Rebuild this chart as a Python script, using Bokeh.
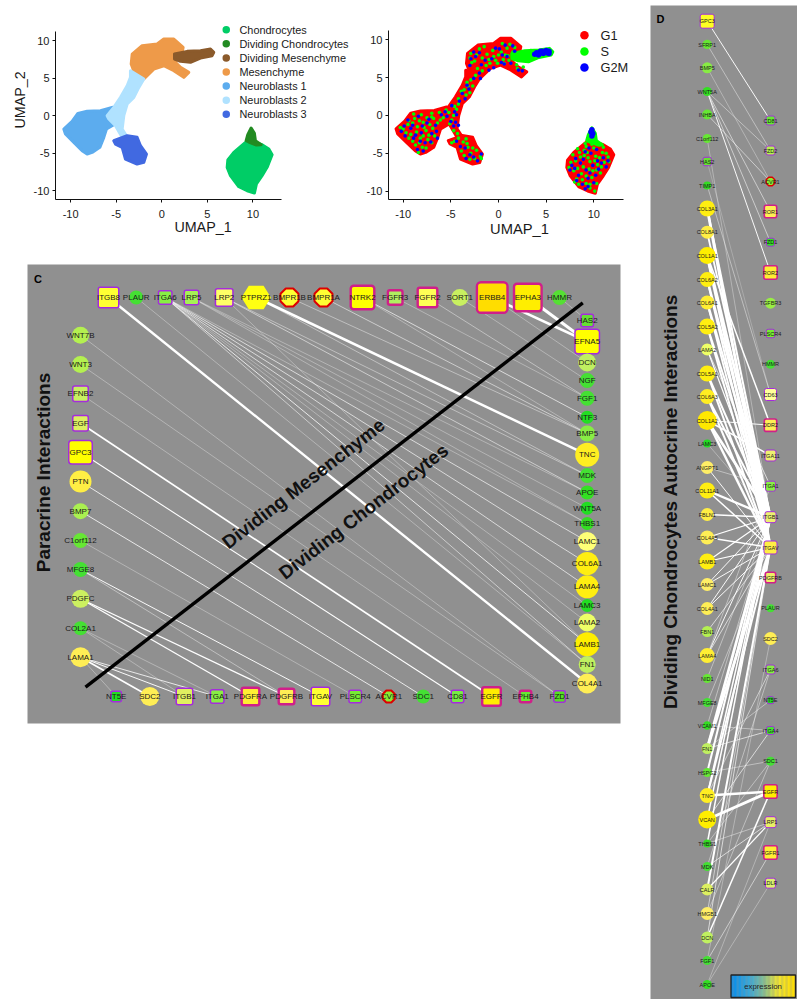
import math
from bokeh.plotting import figure
from bokeh.layouts import row, column
from bokeh.models import Range1d, FixedTicker, Label
from bokeh.core.properties import value
from bokeh.embed import file_html
from bokeh.resources import INLINE

FONT = "Liberation Sans"

# ---------- UMAP clusters (outlines, data units) ----------
cluster_names = ["Chondrocytes", "Dividing Chondrocytes", "Dividing Mesenchyme", "Mesenchyme",
                 "Neuroblasts 1", "Neuroblasts 2", "Neuroblasts 3"]
cluster_colors = ["#00cd66", "#228b22", "#8b5a2b", "#ee9a49", "#5cacee", "#b0e2ff", "#4169e1"]
phase_names = ["G1", "S", "G2M"]
phase_colors = ["#ff0000", "#00ff00", "#0000ff"]

chondro = [(9.18,-3.55),(7.9,-4.88),(7.24,-5.9),(7.17,-6.87),(7.53,-7.98),(8.08,-8.87),(8.45,-9.45),(9.36,-9.98),
           (10.16,-10.29),(10.38,-9.09),(11.0,-7.98),(11.55,-6.87),(12.1,-5.19),(11.74,-4.43),(11.0,-3.86),(10.27,-3.55)]
div_chondro = [(9.8,-1.64),(10.16,-2.35),(10.27,-3.33),(10.9,-3.86),(10.38,-3.9),(9.54,-3.5),(9.25,-3.33),(9.43,-2.53)]
mesench = [(-3.25,8.2),(-2.16,9.31),(-0.51,9.53),(0.22,10.2),(1.32,10.2),(2.34,9.09),(2.23,8.43),(1.5,8.2),(1.5,7.1),
           (2.05,6.43),(2.96,5.76),(2.41,5.1),(1.32,5.99),(0.22,6.65),(-0.88,6.2),(-1.97,4.88),(-2.89,5.32),(-3.36,6.87)]
div_mes = [(1.39,8.2),(2.78,8.56),(4.24,8.65),(5.34,8.87),(5.7,8.43),(5.52,7.98),(4.24,7.67),(3.14,7.1),(2.05,7.23),(1.39,7.54)]
neuro2 = [(-3.44,5.99),(-1.97,4.88),(-2.52,3.77),(-3.07,2.44),(-3.8,1.55),(-4.17,0),(-4.35,-1.77),(-3.88,-2.66),(-4.35,-2.88),
          (-5.08,-1.33),(-5.81,-0.44),(-6.0,0),(-5.27,1.11),(-4.53,2.44),(-3.8,3.99),(-3.44,5.1)]
neuro1 = [(-10.75,-1.77),(-9.84,-0.75),(-9.21,0.31),(-8.19,0.58),(-6.73,0.67),(-5.45,1.11),(-5.27,-1.2),(-6.07,-1.77),(-6.36,-2.88),
          (-6.8,-4.21),(-7.64,-4.88),(-8.19,-5.1),(-8.74,-4.66),(-9.65,-3.55),(-10.57,-2.44)]
neuro3 = [(-5.27,-3.33),(-3.8,-2.66),(-2.71,-2.88),(-2.34,-3.99),(-1.68,-5.1),(-1.97,-6.21),(-2.71,-6.43),(-3.99,-5.76),
          (-4.35,-4.21),(-5.08,-3.77)]

# cells picked out of the cycle-phase panel
s_cells = [(-10.0,-1.8),(-9.5,-1.2),(-9.2,-2.5),(-8.8,-0.4),(-8.5,-1.5),(-8.2,-3.0),(-8.6,-2.2),(-7.9,-0.9),(-7.6,-2.0),
           (-7.4,-3.2),(-7.2,-1.2),(-6.8,-0.4),(-6.7,-2.7),(-8.0,-4.2),(-8.4,-4.9),(-9.0,-3.4),(-7.0,-0.2),(-6.2,0.4),(-5.8,-0.3),
           (-5.2,0.4),(-4.6,1.2),(-4.9,-0.6),(-4.2,2.2),(-3.6,3.4),(-3.2,3.9),(-2.9,4.7),(-4.7,-2.0),(-4.3,-2.4),(-3.4,2.7),
           (-4.6,-3.4),(-3.7,-3.5),(-3.2,-4.2),(-3.6,-5.3),(-2.9,-5.0),(-2.5,-5.7),(-1.9,-5.4),(-1.8,-5.7),(-3.4,-3.1),
           (-2.9,8.2),(-2.5,7.2),(-2.0,8.8),(-1.7,7.6),(-2.2,6.2),(-1.2,8.1),(-0.9,6.9),(-0.3,7.3),(0.0,8.0),(0.4,9.5),(0.9,8.9),
           (-0.6,8.6),(0.5,7.4),(1.0,7.9),(1.5,8.4),(2.0,6.2),(2.6,6.4),
           (7.6,-6.2),(7.9,-7.3),(8.2,-8.4),(8.6,-5.5),(8.9,-6.8),(9.2,-8.0),(9.3,-4.9),(9.6,-6.1),(9.9,-7.3),(10.2,-5.4),
           (10.4,-6.5),(10.7,-7.6),(10.9,-4.9),(11.1,-6.2),(11.5,-5.5),(8.4,-9.1),(9.6,-9.6),(10.1,-10.0),(8.5,-4.9),(9.2,-4.1),
           (9.8,-3.8),(10.6,-3.9),(11.0,-4.2),(9.0,-4.6),(7.4,-6.9),(8.0,-8.8),(9.1,-3.7),(10.3,-3.4),
           (-10.3,-1.6),(-9.7,-2.3),(-9.4,-0.7),(-9.0,-1.0),(-8.9,0.2),(-8.3,-0.7),(-8.1,0.1),(-7.8,-1.6),(-7.5,-0.3),(-7.3,-2.6),
           (-7.0,-3.6),(-6.9,-1.7),(-6.4,-1.0),(-6.1,-0.6),(-8.7,-3.9),(-8.3,-3.6),(-7.6,-4.3),(-9.4,-3.0),(-7.9,-2.7),(-7.0,0.3),
           (-5.5,0.7),(-5.1,-1.1),(-4.7,0.0),(-4.4,0.8),(-4.2,1.5),(-3.9,3.2),(-3.3,4.4),(-2.7,3.9),(-3.0,3.0),(-2.4,5.3),
           (-4.9,-3.6),(-4.2,-3.0),(-3.3,-3.7),(-3.9,-4.7),(-3.0,-5.8),(-2.3,-4.6),(-2.7,-4.3),
           (-2.8,7.0),(-2.3,8.0),(-1.5,9.1),(-1.0,7.4),(-0.5,7.8),(-0.1,6.9),(0.3,8.4),(0.7,8.0),(-3.0,7.6),(-1.7,5.9),(-1.3,6.6),
           (1.2,9.4),(1.7,9.0),(1.9,6.7),(1.1,7.3),(0.6,6.9),
           (8.1,-6.0),(8.3,-7.0),(8.7,-7.7),(9.0,-5.3),(9.4,-5.6),(9.5,-7.1),(9.8,-8.2),(10.1,-6.0),(10.3,-7.2),(10.6,-5.6),
           (10.8,-6.8),(11.3,-5.0),(11.6,-6.1),(8.8,-8.5),(9.2,-9.0),(8.3,-4.4),(7.8,-5.2),(10.0,-4.3),(9.6,-9.1),(10.3,-9.0)]
g2m_cells = [(-9.9,-1.4),(-9.2,-1.7),(-8.9,-3.0),(-8.4,-0.1),(-8.1,-2.3),(-7.7,-3.6),(-7.3,-0.5),(-7.0,-2.4),(-6.6,-1.3),
             (-8.5,-4.5),(-7.9,-4.7),(-6.4,-3.0),(-9.8,-2.7),(-5.0,-0.8),(-4.9,1.3),(-4.5,-0.9),(-4.6,0.5),(-3.8,2.9),(-3.1,3.5),
             (-2.6,4.9),(-5.4,-0.1),(-4.2,-1.3),(-4.0,-4.1),(-3.0,-5.2),(-2.2,-6.0),(-3.4,-5.7),(-2.6,8.4),(-3.0,6.6),(-2.0,5.6),
             (-1.4,7.3),(-0.5,6.3),(-1.9,4.9),(0.1,8.8),(0.7,9.3),(0.9,7.8),(-0.3,8.9),(1.3,6.9),(0.3,7.0),(2.1,6.0),(-2.4,7.8),
             (7.7,-6.6),(8.1,-5.7),(8.4,-7.9),(8.8,-9.1),(9.1,-9.7),(9.4,-8.3),(9.7,-5.0),(10.0,-8.9),(10.3,-4.5),(10.5,-7.1),
             (11.0,-5.6),(11.3,-6.8),(9.5,-4.3),(8.9,-5.8),(9.9,-6.6),
             (-10.2,-2.1),(-9.5,-0.6),(-9.0,-1.3),(-8.7,-2.6),(-8.0,-1.4),(-7.5,-1.0),(-7.1,-3.5),(-6.5,-2.1),(-6.0,0.1),(-8.2,-3.4),
             (-5.6,0.5),(-4.7,-1.4),(-4.4,0.1),(-4.1,1.9),(-3.5,2.2),(-3.3,4.0),(-4.4,-3.4),(-3.5,-4.3),(-2.6,-5.5),(-1.8,-5.1),
             (-2.9,7.5),(-2.0,8.3),(-1.0,6.0),(-0.7,7.5),(0.4,8.0),(0.6,6.8),(1.7,8.5),(1.5,9.2),(-1.8,6.7),(2.5,5.9),
             (7.5,-7.2),(8.0,-7.0),(8.6,-6.3),(9.2,-7.2),(9.6,-7.6),(10.2,-7.9),(10.8,-6.3),(11.5,-6.0),(8.2,-8.6),(9.4,-9.4),(10.4,-6.0),(9.1,-4.8)]
g2m_big = [(3.8,8.1),(4.0,8.3),(4.3,8.2),(4.5,8.4),(4.7,8.2),(4.9,8.4),(5.1,8.3),(5.3,8.5),(5.3,8.2),(5.0,8.6),(4.6,8.5),
           (4.2,8.0),(4.4,8.5),(9.8,-1.9),(9.7,-2.2),(9.9,-2.4),(9.8,-2.7)]
s_big = [(2.0,8.0),(2.6,7.9),(3.2,7.9),(3.7,8.2),(2.3,7.4),(3.0,7.5),(1.7,7.5),(3.4,8.5)]

cluster_tick_values = [-10, -5, 0, 5, 10]
tick_labels = {-10: "-10", -5: "-5", 0: "0", 5: "5", 10: "10"}

# ---------- Panel C network ----------
# name, position along the row/column, box size, fill, kind
# kinds: c circle, s purple box, p pink box, o red octagon, h hexagon
c_top = [("ITGB8",108,22,"#ffff33","s"),("PLAUR",135.7,14,"#44e033","c"),("ITGA6",164.7,15,"#88ee44","s"),
         ("LRP5",191,16,"#a6f055","s"),("LRP2",223.7,19,"#ffff66","s"),("PTPRZ1",255.7,26,"#ffff11","h"),
         ("BMPR1B",289,20,"#ffff33","o"),("BMPR1A",323,20,"#ffff33","o"),("NTRK2",362,26,"#ffff00","p"),
         ("FGFR3",394.7,17,"#b0f060","p"),("FGFR2",427,22,"#ffff55","p"),("SORT1",459.3,17,"#c8f060","c"),
         ("ERBB4",491.7,33,"#ffdd00","p"),("EPHA3",527.3,30,"#ffee00","p"),("HMMR",559,15,"#55e033","c")]
c_right = [("HAS2",320,14,"#66e033","s"),("EFNA5",341,26,"#ffff00","s"),("DCN",362,18,"#c0f060","c"),
           ("NGF",380,15,"#44e033","c"),("FGF1",397.7,15,"#44e033","c"),("NTF3",416.7,13,"#22dd22","c"),
           ("BMP5",433,16,"#88ec44","c"),("TNC",454.3,24,"#ffee22","c"),("MDK",475,15,"#44e033","c"),
           ("APOE",492,14,"#33e022","c"),("WNT5A",507.7,13,"#22dd22","c"),("THBS1",523,13,"#33dd22","c"),
           ("LAMC1",541,19,"#ffff77","c"),("COL6A1",563,23,"#ffee11","c"),("LAMA4",586.3,23,"#ffee11","c"),
           ("LAMC3",605,13,"#22dd22","c"),("LAMA2",622,18,"#eeff66","c"),("LAMB1",643.7,24,"#ffee00","c"),
           ("FN1",664,17,"#c0f060","c"),("COL4A1",683,20,"#ffee55","c")]
c_left = [("WNT7B",334.7,17,"#b4f050","c"),("WNT3",364,17,"#b4f050","c"),("EFNB2",393.3,17,"#c8f060","s"),
          ("EGF",422.7,17,"#ddf060","s"),("GPC3",451.7,25,"#ffff00","s"),("PTN",481,22,"#ffee44","c"),
          ("BMP7",510.7,16,"#aaf050","c"),("C1orf112",540,15,"#66e833","c"),("MFGE8",569,15,"#44e033","c"),
          ("PDGFC",598.3,18,"#ccf060","c"),("COL2A1",627.7,14,"#44e033","c"),("LAMA1",656.7,20,"#ffee55","c")]
c_bottom = [("NT5E",115.7,12,"#22dd22","s"),("SDC2",149.3,19,"#ffee55","c"),("ITGB1",184,18,"#e0f060","s"),
            ("ITGA1",216.7,15,"#88ee44","s"),("PDGFRA",250,20,"#ffee33","p"),("PDGFRB",286,18,"#ffee55","p"),
            ("ITGAV",320,20,"#ffff33","s"),("PLSCR4",354.7,14,"#77ec33","s"),("ACVR1",388.3,14,"#88ee33","o"),
            ("SDC1",422.7,14,"#44e033","c"),("CD81",457,14,"#77ec44","s"),("EGFR",491,21,"#ffee00","p"),
            ("EPHB4",525,14,"#66e833","p"),("FZD1",559,13,"#55e022","s")]
c_top_y, c_right_x, c_left_x, c_bottom_y = 297, 586.7, 80, 696

# receptor on the top row -> ligand in the right column, width
c_edges_tr = [("ITGB8","COL4A1",2.4),("PLAUR","FN1",0.5),("ITGA6","LAMC1",0.8),("ITGA6","COL6A1",0.8),("ITGA6","LAMA4",0.8),
              ("ITGA6","LAMA2",0.5),("ITGA6","LAMB1",0.9),("ITGA6","LAMC3",0.5),("ITGA6","FN1",0.7),("ITGA6","THBS1",0.5),
              ("LRP5","WNT5A",0.5),("LRP5","THBS1",0.5),("LRP5","APOE",0.5),("LRP2","APOE",0.7),("LRP2","MDK",0.6),("LRP2","LAMB1",0.5),
              ("PTPRZ1","TNC",2.6),("PTPRZ1","MDK",0.6),("BMPR1B","BMP5",0.6),("BMPR1A","BMP5",0.7),
              ("NTRK2","NTF3",0.8),("NTRK2","BMP5",0.5),("FGFR3","FGF1",0.5),("FGFR2","FGF1",0.6),("SORT1","NGF",0.5),
              ("ERBB4","EFNA5",2.6),("ERBB4","DCN",0.5),("EPHA3","EFNA5",3.0),("HMMR","HAS2",0.5)]
# ligand in the left column -> receptor on the bottom row, width
c_edges_lb = [("WNT7B","FZD1",0.5),("WNT3","FZD1",0.5),("EFNB2","EPHB4",0.5),("EGF","EGFR",1.7),("GPC3","CD81",1.1),
              ("PTN","SDC1",0.9),("BMP7","ACVR1",0.9),("C1orf112","PLSCR4",0.5),("MFGE8","ITGAV",1.0),("MFGE8","PDGFRB",0.6),
              ("PDGFC","PDGFRA",1.3),("PDGFC","PDGFRB",1.2),("COL2A1","ITGA1",0.5),("COL2A1","ITGB1",0.5),
              ("LAMA1","ITGB1",1.0),("LAMA1","ITGA1",0.9),("LAMA1","SDC2",1.6),("LAMA1","NT5E",0.5)]

# ---------- Panel D network ----------
d_left = [("GPC3",20.7,15,"#ffff22","s"),("SFRP1",44,9.5,"#66e833","c"),("BMP5",67.3,11,"#88ec44","c"),("WNT5A",91,9,"#33e022","c"),
          ("INHBA",114,10,"#66e833","c"),("C1orf112",138,9,"#66e833","c"),("HAS2",161,9.5,"#66e033","s"),("TIMP1",185,8,"#33dd22","c"),
          ("COL3A1",208,16,"#ffee11","c"),("COL8A1",231.7,13,"#ffee44","c"),("COL1A1",255,17,"#ffee00","c"),("COL6A2",279,15,"#ffee11","c"),
          ("COL6A1",302,14,"#ffee33","c"),("COL5A2",326,16,"#ffee11","c"),("LAMA2",349,12,"#eeff66","c"),("COL5A1",373,16,"#ffee11","c"),
          ("COL6A3",396,15,"#ffee22","c"),("COL1A2",420,19,"#ffe800","c"),("LAMC3",443,8,"#22dd22","c"),("ANGPT1",467,13,"#ffee66","c"),
          ("COL11A1",490,16,"#ffee11","c"),("FBLN1",514,13,"#ffee44","c"),("COL4A5",537,14,"#ffee55","c"),("LAMB1",561,16,"#ffee11","c"),
          ("LAMC1",584,13,"#ffee66","c"),("COL4A1",608,13,"#ffee55","c"),("FBN1",631,11,"#b4f050","c"),("LAMA4",655,15,"#ffee33","c"),
          ("NID1",678,9,"#66e833","c"),("MFGE8",702,9,"#44e033","c"),("VCAM1",725,8.5,"#33dd22","c"),("FN1",748,11,"#c0f060","c"),
          ("HSPG2",772,9,"#66e833","c"),("TNC",795,15,"#ffee22","c"),("VCAN",819,18,"#ffee00","c"),("THBS1",843,8,"#33dd22","c"),
          ("MDK",866,9,"#44e033","c"),("CALR",889,12,"#ddf060","c"),("HMGB1",913,13,"#ffee66","c"),("DCN",937,12,"#c0f060","c"),
          ("FGF1",960,9,"#44e033","c"),("APOE",984,9,"#33e022","c")]
d_right = [("CD81",120,10,"#66e833","s"),("FZD2",150,10,"#b4f050","s"),("ACVR1",181,10,"#88ee33","o"),("ROR1",211,14,"#ffee55","p"),
           ("FZD1",241.7,9,"#33dd22","s"),("ROR2",272,15,"#ffee33","p"),("TGFBR3",302.7,11,"#99ee44","c"),("PLSCR4",333,9.5,"#77ec33","s"),
           ("HMMR",363.7,9,"#44e033","c"),("CD63",394,13,"#ffff99","s"),("DDR2",424.7,14,"#ffee55","p"),("ITGA11",455,12,"#eef070","s"),
           ("ITGA1",485.7,11,"#88ee44","s"),("ITGB1",516.7,12,"#eef070","s"),("ITGAV",547,14,"#ffee44","s"),("PDGFRB",577,12,"#eeee66","p"),
           ("PLAUR",607.7,8,"#44e033","c"),("SDC2",638,13,"#ffee55","c"),("ITGA6",669,10,"#88ee44","s"),("NT5E",699.7,8,"#22dd22","s"),
           ("ITGA4",730,9,"#44e033","s"),("SDC1",760.7,9,"#44e033","c"),("EGFR",791,15,"#ffee00","p"),("LRP1",821.7,12,"#e8f066","s"),
           ("FGFR1",852,15,"#ffee33","p"),("LDLR",882.7,11,"#ddf070","s")]
d_left_x, d_right_x = 706.7, 770

d_edges = [("GPC3","CD81",1.0),("SFRP1","FZD2",0.6),("BMP5","ACVR1",0.5),("WNT5A","FZD2",0.6),("WNT5A","FZD1",0.7),("WNT5A","ROR1",0.7),
           ("WNT5A","ROR2",1.0),("INHBA","ACVR1",0.7),("C1orf112","ITGB1",0.5),("TIMP1","CD63",0.6),("HAS2","CD63",0.4),
           ("COL3A1","ITGAV",2.8),("COL3A1","ITGB1",2.0),("COL8A1","ITGB1",1.8),("COL1A1","ITGB1",2.8),("COL1A1","ITGAV",2.8),("COL1A1","DDR2",1.5),
           ("COL6A2","ITGB1",2.4),("COL6A2","ITGAV",2.0),("COL6A1","ITGB1",2.4),("COL6A1","ITGAV",1.8),("COL5A2","ITGB1",2.0),("COL5A2","ITGAV",2.0),
           ("LAMA2","ITGB1",1.2),("LAMA2","ITGA1",0.8),("COL5A1","ITGB1",2.0),("COL5A1","ITGAV",2.0),("COL6A3","ITGB1",2.0),("COL6A3","ITGAV",2.0),
           ("COL1A2","ITGB1",2.8),("COL1A2","ITGAV",2.4),("COL1A2","ITGA11",1.5),("COL1A2","DDR2",1.0),("LAMC3","ITGB1",0.5),
           ("ANGPT1","ITGAV",1.0),("ANGPT1","ITGA1",0.6),("COL11A1","ITGB1",2.4),("COL11A1","ITGAV",1.5),("FBLN1","ITGB1",1.5),
           ("COL4A5","ITGB1",1.2),("COL4A5","ITGAV",1.5),("LAMB1","ITGB1",1.2),("LAMB1","ITGAV",1.2),("LAMC1","ITGB1",1.0),("LAMC1","ITGAV",1.0),
           ("COL4A1","ITGB1",1.0),("COL4A1","ITGAV",1.0),("FBN1","ITGAV",0.8),("LAMA4","ITGB1",1.0),("LAMA4","ITGAV",0.8),("LAMA4","ITGA1",0.6),
           ("NID1","ITGB1",0.6),("MFGE8","ITGAV",0.6),("VCAM1","ITGA4",0.6),("VCAM1","ITGB1",0.6),("FN1","ITGB1",2.8),("FN1","ITGAV",2.8),
           ("FN1","ITGA4",0.8),("FN1","NT5E",0.6),("HSPG2","ITGB1",2.0),("HSPG2","SDC1",0.6),("TNC","EGFR",2.5),("TNC","ITGAV",2.0),("TNC","ITGB1",1.5),
           ("TNC","ITGA6",0.7),("VCAN","EGFR",3.0),("VCAN","ITGB1",1.5),("VCAN","ITGA4",0.8),("THBS1","ITGB1",1.5),("THBS1","LRP1",0.6),("THBS1","SDC1",0.6),
           ("MDK","LRP1",0.8),("MDK","ITGA6",0.6),("CALR","LRP1",1.2),("CALR","ITGAV",2.0),("HMGB1","SDC1",0.6),("HMGB1","ITGAV",0.7),
           ("DCN","EGFR",1.5),("DCN","ITGAV",0.8),("FGF1","FGFR1",0.7),("FGF1","SDC2",0.5),("APOE","LDLR",0.5),("APOE","LRP1",0.5)]

PURPLE, PINK, RED = "#a52bdd", "#d01f8a", "#dd0000"


def polygon(cx, cy, w, h, n, offset):
    xs = [cx + w / 2 * math.cos(offset + 2 * math.pi * i / n) / math.cos(math.pi / n if n == 8 else 0) for i in range(n)]
    ys = [cy + h / 2 * math.sin(offset + 2 * math.pi * i / n) / math.cos(math.pi / n) for i in range(n)]
    return xs, ys


def draw_nodes(p, nodes, font_px, borders):
    bw_s, bw_p, bw_o = borders
    for name, x, y, s, fill, kind in nodes:
        if kind == "c":
            p.scatter([x], [y], size=s, fill_color=fill, line_color=None, marker="circle")
        elif kind in "sp":
            bw, col = (bw_s, PURPLE) if kind == "s" else (bw_p, PINK)
            p.rect([x], [y], width=s - bw, height=s - bw, fill_color=fill, line_color=col, line_width=bw,
                   border_radius=max(2, round(s * 0.11)))
        elif kind == "o":
            xs, ys = polygon(x, y, s - bw_o, s - bw_o, 8, math.pi / 8)
            p.patch(xs, ys, fill_color=fill, line_color=RED, line_width=bw_o)
        elif kind == "h":
            xs, ys = polygon(x, y, s / 0.88, s * 0.9, 6, 0)
            p.patch(xs, ys, fill_color=fill, line_color=None)
    p.text([n[1] for n in nodes], [n[2] for n in nodes], text=[n[0] for n in nodes], text_align="center",
           text_baseline="middle", text_font=value(FONT), text_font_size=f"{font_px}px", text_color="#1a1a1a")


def draw_edges(p, edges, lookup):
    for a, b, w in edges:
        ax, ay = lookup[a]
        bx, by = lookup[b]
        p.line([ax, bx], [ay, by], line_color="#ffffff", line_width=w, line_alpha=min(1.0, 0.35 + w * 0.6))


def umap_panel(width, left, bottom, xr, yr, xbound, ybound, label_standoff, show_ylabel):
    p = figure(width=width, height=262, x_range=Range1d(*xr), y_range=Range1d(*yr), output_backend="svg",
               toolbar_location=None, tools="", min_border_left=left, min_border_right=0, min_border_top=0,
               min_border_bottom=bottom, background_fill_color="#ffffff", border_fill_color="#ffffff")
    p.outline_line_color = None
    p.grid.visible = False
    for ax, bound in ((p.xaxis[0], xbound), (p.yaxis[0], ybound)):
        ax.ticker = FixedTicker(ticks=cluster_tick_values)
        ax.major_label_overrides = tick_labels
        ax.bounds = bound
        ax.axis_line_color = "#111111"
        ax.axis_line_width = 1
        ax.major_tick_line_color = "#111111"
        ax.major_tick_out = 3
        ax.major_tick_in = 0
        ax.minor_tick_line_color = None
        ax.major_label_text_font = FONT
        ax.major_label_text_font_size = "11px"
        ax.major_label_text_color = "#1a1a1a"
        ax.axis_label_text_font = FONT
        ax.axis_label_text_font_style = "normal"
        ax.axis_label_text_color = "#1a1a1a"
    p.xaxis[0].axis_label = "UMAP_1"
    p.xaxis[0].major_label_standoff = 7
    p.xaxis[0].axis_label_standoff = label_standoff
    p.yaxis[0].major_label_standoff = 3
    if show_ylabel:
        p.yaxis[0].axis_label = "UMAP_2"
        p.yaxis[0].axis_label_standoff = 3
    return p


def split(points):
    return [a for a, _ in points], [b for _, b in points]


def blob(p, pts, color):
    xs, ys = split(pts)
    p.patch(xs, ys, fill_color=color, line_color=color, line_width=3, line_join="round")


# ---------- Panel A ----------
pa = umap_panel(350, 55, 63, (-11.662, 20.70), (-11.148, 15.325), (-11.662, 13.1), (-11.148, 11.24), -2, True)
pa.xaxis[0].axis_label_text_font_size = "14.3px"
pa.yaxis[0].axis_label_text_font_size = "14.3px"
for pts, col in ((chondro, cluster_colors[0]), (div_chondro, cluster_colors[1]), (mesench, cluster_colors[3]),
                 (div_mes, cluster_colors[2]), (neuro1, cluster_colors[4]), (neuro2, cluster_colors[5]), (neuro3, cluster_colors[6])):
    blob(pa, pts, col)
legend_a_y = [11.43 - 1.872 * i for i in range(len(cluster_names))]
pa.scatter([7.07] * len(cluster_names), legend_a_y, size=7.5, fill_color=cluster_colors, line_color=None)
pa.text([8.52] * len(cluster_names), legend_a_y, text=cluster_names, text_baseline="middle", text_align="left",
        text_font=value(FONT), text_font_size="10.9px", text_color="#1a1a1a")
pa.add_layout(Label(x=-42.5, y=180, x_units="screen", y_units="screen", text="A", text_font=FONT,
                    text_font_size="11px", text_font_style="bold", text_baseline="middle", text_color="#000000"))

# ---------- Panel B ----------
pb = umap_panel(300, 38, 56, (-11.54, 15.95), (-11.11, 15.2), (-11.54, 13.15), (-11.11, 11.24), 0, False)
pb.xaxis[0].axis_label_text_font_size = "14.7px"
for pts, col in ((chondro, phase_colors[0]), (div_chondro, phase_colors[1]), (mesench, phase_colors[0]),
                 (div_mes, phase_colors[1]), (neuro1, phase_colors[0]), (neuro2, phase_colors[0]), (neuro3, phase_colors[0])):
    blob(pb, pts, col)
sx, sy = split(s_cells)
pb.scatter(sx, sy, size=3.6, fill_color=phase_colors[1], line_color=None)
gx, gy = split(g2m_cells)
pb.scatter(gx, gy, size=3.6, fill_color=phase_colors[2], line_color=None)
sx, sy = split(s_big)
pb.scatter(sx, sy, size=5, fill_color=phase_colors[1], line_color=None)
gx, gy = split(g2m_big)
pb.scatter(gx, gy, size=5.5, fill_color=phase_colors[2], line_color=None)
legend_b_y = [10.6, 8.47, 6.35]
pb.scatter([9.02] * 3, legend_b_y, size=8.5, fill_color=phase_colors, line_color=None)
pb.text([10.7] * 3, legend_b_y, text=phase_names, text_baseline="middle", text_align="left",
        text_font=value(FONT), text_font_size="12.8px", text_color="#1a1a1a")
pb.add_layout(Label(x=-35.5, y=187, x_units="screen", y_units="screen", text="B", text_font=FONT,
                    text_font_size="11px", text_font_style="bold", text_baseline="middle", text_color="#000000"))

# ---------- Panel C ----------
GREY = "#909090"
pc = figure(width=650, height=737, x_range=Range1d(27, 620), y_range=Range1d(723, 264), output_backend="svg",
            toolbar_location=None, tools="", x_axis_location=None, y_axis_location=None, min_border_left=27, min_border_right=30,
            min_border_top=2, min_border_bottom=276, background_fill_color=GREY, border_fill_color="#ffffff")
pc.outline_line_color = None
pc.grid.visible = False
nodes_c = [(n, x, c_top_y, s, f, k) for n, x, s, f, k in c_top] + [(n, c_right_x, y, s, f, k) for n, y, s, f, k in c_right] + \
          [(n, c_left_x, y, s, f, k) for n, y, s, f, k in c_left] + [(n, x, c_bottom_y, s, f, k) for n, x, s, f, k in c_bottom]
top_xy = {n: (x, c_top_y) for n, x, *_ in c_top}
right_xy = {n: (c_right_x, y) for n, y, *_ in c_right}
left_xy = {n: (c_left_x, y) for n, y, *_ in c_left}
bottom_xy = {n: (x, c_bottom_y) for n, x, *_ in c_bottom}
draw_edges(pc, c_edges_tr, {**top_xy, **right_xy})
draw_edges(pc, c_edges_lb, {**left_xy, **bottom_xy})
pc.line([85, 582.3], [686.7, 302.3], line_color="#000000", line_width=3.4)
draw_nodes(pc, nodes_c, 8, (1.5, 2.4, 2))
slope = math.radians(37.7)
pc.text([303], [483], text=["Dividing Mesenchyme"], angle=slope, text_align="center", text_baseline="middle",
        text_font=value(FONT), text_font_style="bold", text_font_size="19px", text_color="#111111")
pc.text([363], [511], text=["Dividing Chondrocytes"], angle=slope, text_align="center", text_baseline="middle",
        text_font=value(FONT), text_font_style="bold", text_font_size="19px", text_color="#111111")
pc.text([43], [472], text=["Paracrine Interactions"], angle=math.pi / 2, text_align="center", text_baseline="middle",
        text_font=value(FONT), text_font_style="bold", text_font_size="19px", text_color="#111111")
pc.text([37.5], [278], text=["C"], text_align="center", text_baseline="middle", text_font=value(FONT),
        text_font_style="bold", text_font_size="11px", text_color="#000000")

# ---------- Panel D ----------
pd_ = figure(width=147, height=999, x_range=Range1d(650, 797), y_range=Range1d(999, 5), output_backend="svg",
             toolbar_location=None, tools="", x_axis_location=None, y_axis_location=None, min_border_left=0, min_border_right=0,
             min_border_top=5, min_border_bottom=0, background_fill_color=GREY, border_fill_color="#ffffff")
pd_.outline_line_color = None
pd_.grid.visible = False
nodes_d = [(n, d_left_x, y, s, f, k) for n, y, s, f, k in d_left] + [(n, d_right_x, y, s, f, k) for n, y, s, f, k in d_right]
lookup_d = {**{n: (d_left_x, y) for n, y, *_ in d_left}, **{n: (d_right_x, y) for n, y, *_ in d_right}}
draw_edges(pd_, d_edges, lookup_d)
draw_nodes(pd_, nodes_d, 5.5, (1, 1.6, 1.4))
pd_.text([670], [501], text=["Dividing Chondrocytes Autocrine Interactions"], angle=math.pi / 2, text_align="center",
         text_baseline="middle", text_font=value(FONT), text_font_style="bold", text_font_size="19px", text_color="#111111")
pd_.text([660], [18], text=["D"], text_align="center", text_baseline="middle", text_font=value(FONT),
         text_font_style="bold", text_font_size="11px", text_color="#000000")

# expression legend (colour bar)
stops = [(0.0, (0, 140, 240)), (0.3, (60, 170, 215)), (0.5, (130, 190, 150)), (0.72, (240, 230, 50)), (1.0, (255, 220, 0))]


def ramp(t):
    for (t0, c0), (t1, c1) in zip(stops, stops[1:]):
        if t <= t1:
            f = (t - t0) / (t1 - t0)
            return "#%02x%02x%02x" % tuple(round(a + (b - a) * f) for a, b in zip(c0, c1))
    return "#ffdc00"


bar_l, bar_r, bar_t, bar_b, steps = 730.5, 795, 974.5, 997, 50
edges_bar = [bar_l + (bar_r - bar_l) * i / steps for i in range(steps + 1)]
pd_.quad(left=edges_bar[:-1], right=edges_bar[1:], top=[bar_t] * steps, bottom=[bar_b] * steps,
         fill_color=[ramp((i + 0.5) / steps) for i in range(steps)], line_color=None)
pd_.quad(left=[bar_l], right=[bar_r], top=[bar_t], bottom=[bar_b], fill_color=None, line_color="#222222", line_width=1.3)
pd_.text([762.5], [986], text=["expression"], text_align="center", text_baseline="middle", text_font=value(FONT),
         text_font_size="7.8px", text_color="#222222")

page = row(column(row(pa, pb, spacing=0), pc, spacing=0), pd_, spacing=0)
open("out.html", "w").write(file_html(page, INLINE))
